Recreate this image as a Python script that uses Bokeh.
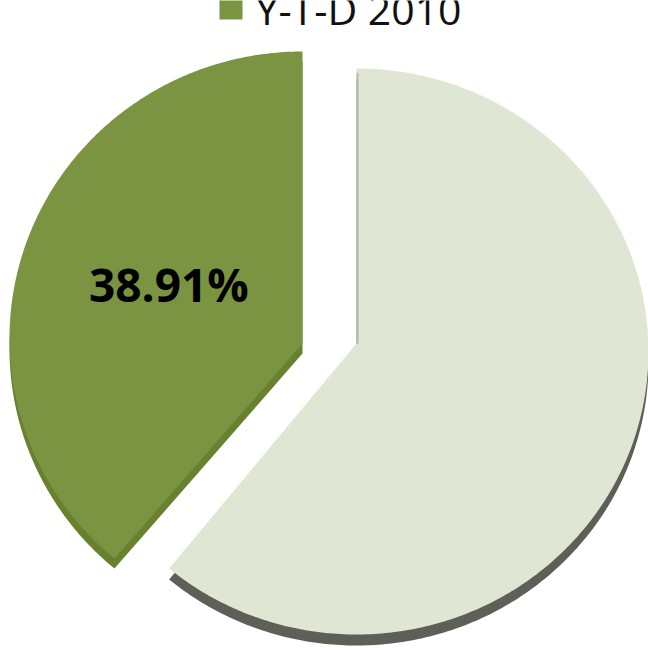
import numpy as np
from bokeh.plotting import figure
from bokeh.models import Range1d
from bokeh.core.properties import value
from bokeh.embed import file_html
from bokeh.resources import INLINE

categories = ["Y-T-D 2010", "Other"]
shares = [38.91, 61.09]
labels = ["38.91%", ""]
colors = ["#7b9441", "#e0e6d4"]
shadow_colors = ["#67812f", "#5e5f57"]

W, H = 648, 651
p = figure(width=W, height=H, x_range=Range1d(0, 648), y_range=Range1d(0, 651),
           output_backend="svg", toolbar_location=None, min_border=0)
p.axis.visible = False
p.grid.visible = False
p.outline_line_color = None
p.background_fill_color = "white"
p.border_fill_color = "white"


def Y(ref_y):
    return 651 - ref_y


# geometry per slice (layout): ellipse centre, radii, apex, shadow drop
geo = [
    dict(cx=302, cy=Y(338), rx=293, ry=287, ax=302, ay=Y(343), drop=10),
    dict(cx=356, cy=Y(351), rx=292, ry=283, ax=356, ay=Y(343), drop=11),
]

total = sum(shares)
start = np.pi / 2
angles = []
for s in shares:
    end = start + 2 * np.pi * s / total
    angles.append((start, end))
    start = end


def sector(g, a0, a1, dy=0.0):
    t = np.linspace(a0, a1, 300)
    xs = [g["ax"]] + list(g["cx"] + g["rx"] * np.cos(t))
    ys = [g["ay"] - dy] + list(g["cy"] + g["ry"] * np.sin(t) - dy)
    return xs, ys


# shadows / 3D thickness
for i in range(len(shares)):
    xs, ys = sector(geo[i], *angles[i], dy=geo[i]["drop"])
    p.patch(xs, ys, fill_color=shadow_colors[i], line_color=None)

for i in range(len(shares)):
    xs, ys = sector(geo[i], *angles[i])
    p.patch(xs, ys, fill_color=colors[i], line_color=None)

# thin side edge on light slice
g = geo[1]
p.line([g["ax"] + 1, g["ax"] + 1], [g["ay"], g["cy"] + g["ry"] * 0.985],
       line_color="#b4b6ac", line_width=2)

# percentage label
g = geo[0]
mid = (angles[0][0] + angles[0][1]) / 2
lx = g["cx"] + 0.5 * g["rx"] * np.cos(mid) + 4
ly = Y(283)
p.text(x=[lx], y=[ly], text=[labels[0]], text_font=value("Open Sans"),
       text_font_style="bold", text_font_size="46px", text_color="#000000",
       text_align="center", text_baseline="middle")

# legend (top, partially clipped as in the reference)
p.rect(x=[230.5], y=[Y(7.5)], width=23, height=23, fill_color=colors[0], line_color=None)
p.text(x=[255], y=[Y(8)], text=[categories[0]], text_font=value("Open Sans"),
       text_font_size="41px", text_color="#111111", text_align="left",
       text_baseline="alphabetic")

open("out.html", "w").write(file_html(p, INLINE))
